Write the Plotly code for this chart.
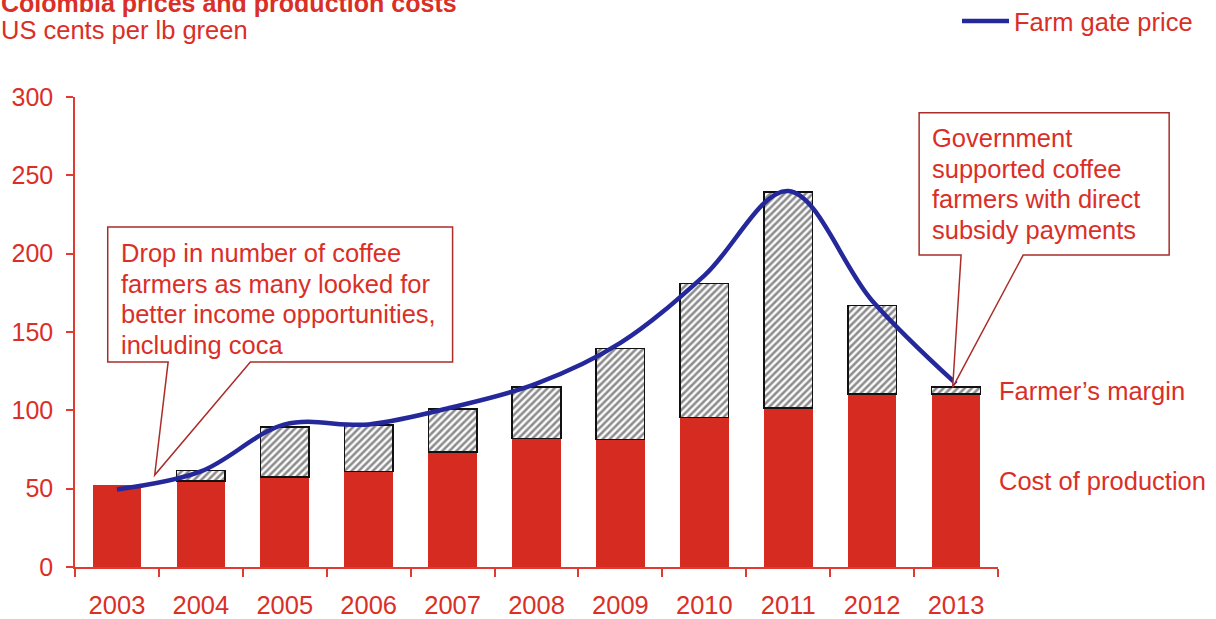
import plotly.graph_objects as go

# Colombia coffee: production cost vs farm gate price (US cents per lb green)
years = ["2003", "2004", "2005", "2006", "2007", "2008", "2009", "2010", "2011", "2012", "2013"]
year_num = [2003, 2004, 2005, 2006, 2007, 2008, 2009, 2010, 2011, 2012, 2013]
cost_of_production = [52.5, 55, 57.5, 61, 73.5, 82, 81.5, 95.5, 101.5, 110.5, 110.5]
farmer_margin = [None, 6.5, 32, 29.5, 27.5, 33, 58, 85.5, 138, 56.5, 4.5]
farm_gate_price = [49.5, 61, 91, 91, 102, 117, 143, 186, 240, 170, 117]
y_ticks = [0, 50, 100, 150, 200, 250, 300]

note_left = ["Drop in number of coffee", "farmers as many looked for",
             "better income opportunities,", "including coca"]
note_right = ["Government", "supported coffee", "farmers with direct", "subsidy payments"]

RED = "#D62B20"
TEXT_RED = "#DA2F27"
AXIS_RED = "#DF3B30"
BOX_RED = "#A92E2A"
BLUE = "#24289A"
FONT = "Liberation Sans, Arial, sans-serif"

W, H = 1216, 619
ML, MR, MT, MB = 75, 218, 97, 52
PW, PH = W - ML - MR, H - MT - MB

X0, X1 = 2002.5, 2013.5
Y0, Y1 = 0, 300


def xp(year):
    return (year - X0) / (X1 - X0)


def yp(v):
    return (v - Y0) / (Y1 - Y0)


def px_x(px):
    return (px - ML) / PW


def px_y(py):
    return (H - MB - py) / PH


def callout_path(left, right, top, bottom, base_a, base_b, tip):
    """Rectangle with a wedge pointer, given in data units, returned in paper units."""
    pts = [
        (left, top), (right, top), (right, bottom), (base_b, bottom),
        tip, (base_a, bottom), (left, bottom),
    ]
    return "M " + " L ".join(f"{xp(x):.5f},{yp(y):.5f}" for x, y in pts) + " Z"


fig = go.Figure()

fig.add_trace(go.Bar(
    x=years, y=cost_of_production, name="Cost of production",
    marker=dict(color=RED, line=dict(width=0)),
    showlegend=False,
))
fig.add_trace(go.Bar(
    x=years, y=farmer_margin, name="Farmer’s margin",
    marker=dict(
        color="white",
        line=dict(color="#111111", width=1.5),
        pattern=dict(shape="/", fgcolor="#1E1E1E", bgcolor="#FAFAFA", size=5, solidity=0.5),
    ),
    showlegend=False,
))
fig.add_trace(go.Scatter(
    x=year_num, y=farm_gate_price, name="Farm gate price",
    mode="lines", line=dict(color=BLUE, width=4.5, shape="spline", smoothing=1),
    xaxis="x2", yaxis="y",
))

fig.update_layout(
    width=W, height=H,
    margin=dict(l=ML, r=MR, t=MT, b=MB, autoexpand=False),
    paper_bgcolor="white", plot_bgcolor="white",
    barmode="stack", bargap=0.42,
    font=dict(family=FONT, size=25, color=TEXT_RED),
    xaxis=dict(
        type="category", range=[-0.5, 10.5], automargin=False,
        showline=True, linecolor=AXIS_RED, linewidth=1.5,
        ticks="outside", tickson="boundaries", ticklen=8, tickcolor=AXIS_RED, tickwidth=1.5,
        showgrid=False, zeroline=False,
        tickfont=dict(size=25.5, color=TEXT_RED), ticklabelstandoff=15,
    ),
    xaxis2=dict(
        overlaying="x", range=[X0, X1], visible=False, showgrid=False, zeroline=False,
    ),
    yaxis=dict(
        range=[Y0, Y1], tickmode="array", tickvals=y_ticks, automargin=False,
        showline=True, linecolor=AXIS_RED, linewidth=1.5,
        ticks="outside", ticklen=7, tickcolor=AXIS_RED, tickwidth=1.5,
        showgrid=False, zeroline=False,
        tickfont=dict(size=25, color=TEXT_RED), ticklabelstandoff=8,
    ),
    legend=dict(
        x=px_x(957), y=px_y(-2), xanchor="left", yanchor="top",
        bgcolor="rgba(0,0,0,0)", font=dict(size=25.5, color=TEXT_RED),
        itemwidth=47,
    ),
    showlegend=True,
)

# Callout boxes with wedge pointers
fig.add_shape(type="path", xref="paper", yref="paper",
              path=callout_path(2002.89, 2007.0, 217, 130.9, 2003.61, 2004.59, (2003.45, 58.7)),
              line=dict(color=BOX_RED, width=1.5), fillcolor="white", layer="above")
fig.add_shape(type="path", xref="paper", yref="paper",
              path=callout_path(2012.56, 2015.54, 290, 199.1, 2013.06, 2013.8, (2012.96, 114.7)),
              line=dict(color=BOX_RED, width=1.5), fillcolor="white", layer="above")

LINE_STEP = 30.7
for i, line in enumerate(note_left):
    fig.add_annotation(
        xref="paper", yref="paper", x=px_x(119), y=px_y(253 + i * LINE_STEP),
        xanchor="left", yanchor="middle", text=line, showarrow=False,
        font=dict(size=25.5, color=TEXT_RED),
    )
for i, line in enumerate(note_right):
    fig.add_annotation(
        xref="paper", yref="paper", x=px_x(930), y=px_y(138 + i * LINE_STEP),
        xanchor="left", yanchor="middle", text=line, showarrow=False,
        font=dict(size=25.5, color=TEXT_RED),
    )

# Segment labels beside the last bar
fig.add_annotation(xref="paper", yref="paper", x=px_x(997), y=px_y(391), xanchor="left", yanchor="middle",
                   text="Farmer’s margin", showarrow=False, font=dict(size=25.5, color=TEXT_RED))
fig.add_annotation(xref="paper", yref="paper", x=px_x(997), y=px_y(481), xanchor="left", yanchor="middle",
                   text="Cost of production", showarrow=False, font=dict(size=25.5, color=TEXT_RED))

# Title (runs into the top edge of the page) and unit line
fig.add_annotation(xref="paper", yref="paper", x=px_x(-1), y=px_y(3),
                   xanchor="left", yanchor="middle", showarrow=False,
                   text="<b>Colombia prices and production costs</b>", font=dict(size=25, color=TEXT_RED))
fig.add_annotation(xref="paper", yref="paper", x=px_x(-1), y=px_y(30),
                   xanchor="left", yanchor="middle", showarrow=False,
                   text="US cents per lb green", font=dict(size=25.5, color=TEXT_RED))

fig.write_html("out.html")
